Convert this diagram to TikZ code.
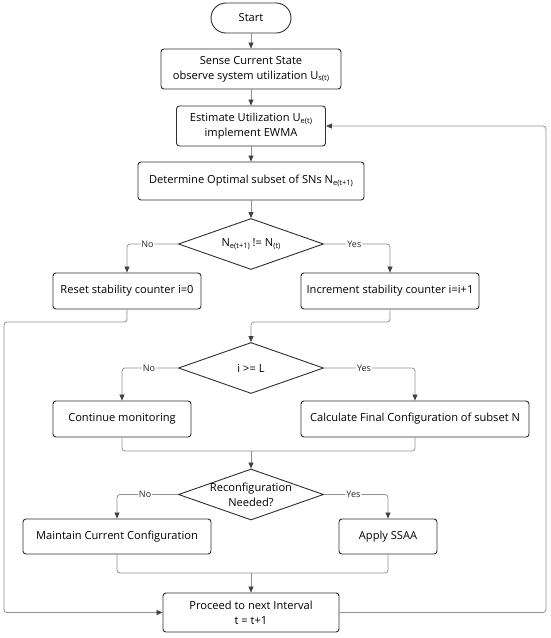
\documentclass[tikz,border=0pt]{standalone}
\usepackage{fontspec}
\setmainfont{Open Sans}
\usetikzlibrary{arrows.meta,shapes.geometric}
\definecolor{boxc}{HTML}{2E2E2E}
\definecolor{linec}{HTML}{8E9196}
\definecolor{arrc}{HTML}{3D4350}
\newcommand\sbs[1]{\raisebox{-0.3ex}{\fontsize{7.5}{8}\selectfont #1}}
\begin{document}
\begin{tikzpicture}[x=1pt,y=-1pt,
  font=\fontsize{11.1}{15}\selectfont,
  box/.style={draw=boxc,line width=0.9pt,rounded corners=3pt,fill=white,inner sep=0pt,align=center},
  term/.style={draw=boxc,line width=0.9pt,rounded corners=15pt,fill=white,inner sep=0pt,minimum width=80pt,minimum height=30pt},
  dia/.style={draw=boxc,line width=0.9pt,diamond,fill=white,inner sep=0pt,minimum width=145pt,minimum height=51pt},
  dtext/.style={align=center,inner sep=0pt},
  conn/.style={draw=linec,line width=0.8pt,rounded corners=3pt},
  arr/.style={conn,-{Triangle[length=6pt,width=5pt,color=arrc,fill=arrc]}},
  lab/.style={fill=white,inner sep=1pt,font=\fontsize{9}{10}\selectfont,text=black!85}]
\useasboundingbox (0,0) rectangle (550,638);
% nodes
\node[term] (start) at (251,18) {Start};
\node[box,minimum width=180pt,minimum height=40pt] (sense) at (251,69) {Sense Current State\\observe system utilization U\sbs{s(t)}};
\node[box,minimum width=149pt,minimum height=40pt] (est) at (251,126) {Estimate Utilization U\sbs{e(t)}\\implement EWMA};
\node[box,minimum width=226pt,minimum height=38pt] (det) at (251,181) {Determine Optimal subset of SNs N\sbs{e(t+1)}};
\node[dia] (d1) at (251,244) {};
\node[dtext] (d1t) at (d1) {N\sbs{e(t+1)} != N\sbs{(t)}};
\node[box,minimum width=148pt,minimum height=36pt] (reset) at (127,291) {Reset stability counter i=0};
\node[box,minimum width=178pt,minimum height=36pt] (inc) at (390,291) {Increment stability counter i=i+1};
\node[dia] (d2) at (251,368) {};
\node[dtext] (d2t) at (d2) {i >= L};
\node[box,minimum width=138pt,minimum height=36pt] (cont) at (122,419) {Continue monitoring};
\node[box,minimum width=228pt,minimum height=36pt] (calc) at (415,419) {Calculate Final Configuration of subset N};
\node[dia] (d3) at (251,494.5) {};
\node[dtext] (d3t) at (d3) {Reconfiguration\\Needed?};
\node[box,minimum width=188pt,minimum height=35pt] (maint) at (117,536.5) {Maintain Current Configuration};
\node[box,minimum width=98pt,minimum height=35pt] (apply) at (388,536.5) {Apply SSAA};
\node[box,minimum width=176pt,minimum height=39pt] (proc) at (251,612.5) {Proceed to next Interval\\t = t+1};
% helper coordinates
\coordinate (lx) at (4,322);
\coordinate (m1) at (251,322);
\coordinate (m2) at (251,451);
\coordinate (m3) at (251,573);
\coordinate (rx) at (546,126);
% connectors
\draw[arr] (start) -- (sense);
\draw[arr] (sense) -- (est);
\draw[arr] (est) -- (det);
\draw[arr] (det) -- (d1);
\draw[arr] (d1.west) -| node[lab,pos=0.3]{No} (reset.north);
\draw[arr] (d1.east) -| node[lab,pos=0.23]{Yes} (inc.north);
\draw[arr] (reset.south) |- (lx) |- (proc.west);
\draw[arr] (inc.south) |- (m1) -- (d2.north);
\draw[arr] (d2.west) -| node[lab,pos=0.26]{No} (cont.north);
\draw[arr] (d2.east) -| node[lab,pos=0.22]{Yes} (calc.north);
\draw[conn] (cont.south) |- (m2) -| (calc.south);
\draw[arr] (m2) -- (d3.north);
\draw[arr] (d3.west) -| node[lab,pos=0.27]{No} (maint.north);
\draw[arr] (d3.east) -| node[lab,pos=0.23]{Yes} (apply.north);
\draw[conn] (maint.south) |- (m3) -| (apply.south);
\draw[arr] (m3) -- (proc.north);
\draw[arr] (proc.east) -| (rx) -- (est.east);
\end{tikzpicture}
\end{document}
